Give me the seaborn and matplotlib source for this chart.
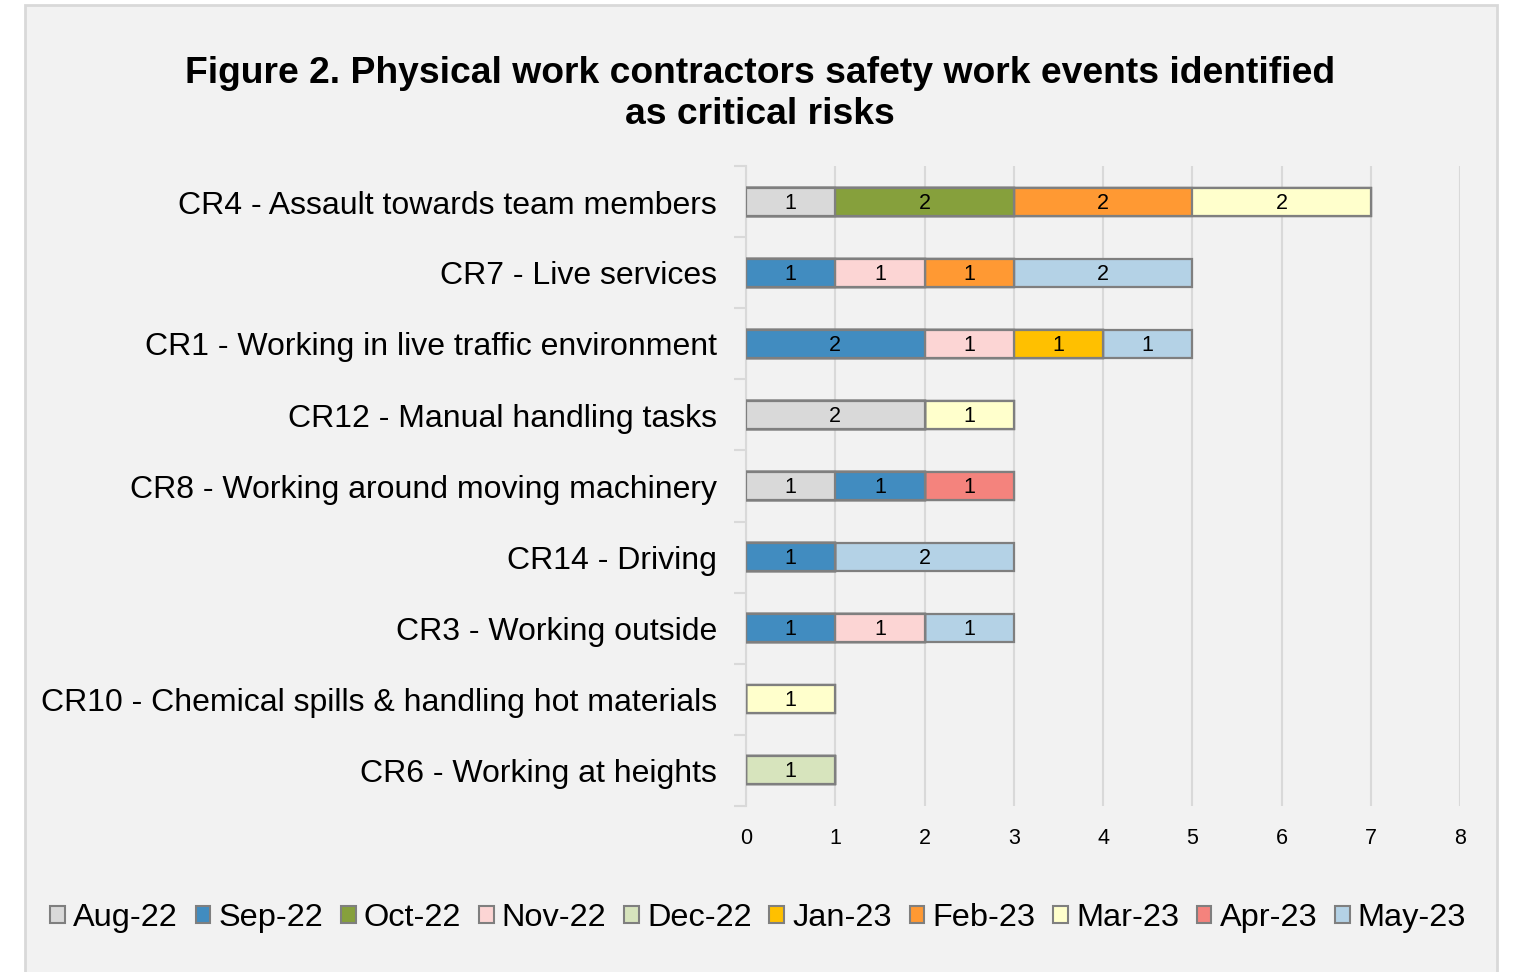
import numpy as np
import pandas as pd
import seaborn as sns
import matplotlib.pyplot as plt
from matplotlib.patches import Patch, Rectangle

# categories, top to bottom as in the chart
risks = [
    "CR4 - Assault towards team members",
    "CR7 - Live services",
    "CR1 - Working in live traffic environment",
    "CR12 - Manual handling tasks",
    "CR8 - Working around moving machinery",
    "CR14 - Driving",
    "CR3 - Working outside",
    "CR10 - Chemical spills & handling hot materials",
    "CR6 - Working at heights",
]
months = ["Aug-22", "Sep-22", "Oct-22", "Nov-22", "Dec-22",
          "Jan-23", "Feb-23", "Mar-23", "Apr-23", "May-23"]

# events per risk, one list per month (same order as risks)
aug_22 = [1, 0, 0, 2, 1, 0, 0, 0, 0]
sep_22 = [0, 1, 2, 0, 1, 1, 1, 0, 0]
oct_22 = [2, 0, 0, 0, 0, 0, 0, 0, 0]
nov_22 = [0, 1, 1, 0, 0, 0, 1, 0, 0]
dec_22 = [0, 0, 0, 0, 0, 0, 0, 0, 1]
jan_23 = [0, 0, 1, 0, 0, 0, 0, 0, 0]
feb_23 = [2, 1, 0, 0, 0, 0, 0, 0, 0]
mar_23 = [2, 0, 0, 1, 0, 0, 0, 1, 0]
apr_23 = [0, 0, 0, 0, 1, 0, 0, 0, 0]
may_23 = [0, 2, 1, 0, 0, 2, 1, 0, 0]

colors = ["#d9d9d9", "#418cc0", "#86a03c", "#fcd5d4", "#d7e4bd",
          "#ffc000", "#ff9933", "#ffffcc", "#f4837d", "#b4d2e6"]

df = pd.DataFrame(
    [aug_22, sep_22, oct_22, nov_22, dec_22, jan_23, feb_23, mar_23, apr_23, may_23],
    index=months, columns=risks,
).T
cum = df.cumsum(axis=1)

sns.set_theme(style="white")
plt.rcParams["font.family"] = ["Liberation Sans", "DejaVu Sans"]
for key in ["text.color", "axes.labelcolor", "xtick.color", "ytick.color"]:
    plt.rcParams[key] = "black"

fig = plt.figure(figsize=(15.38, 9.72), dpi=100)
fig.patch.set_facecolor("white")
# light grey chart area with border, like the office chart frame
fig.patches.append(Rectangle((25 / 1538, -0.05), 1472 / 1538, 1.05 - 5 / 972,
                             transform=fig.transFigure, facecolor="#f2f2f2",
                             edgecolor="#d9d9d9", linewidth=2, zorder=-1))

ax = fig.add_axes([746 / 1538, 1 - 805.5 / 972, 714 / 1538, 639 / 972])
ax.set_facecolor("none")

# stacked bars: draw the widest cumulative layer first, narrower ones on top
for m, c in reversed(list(zip(months, colors))):
    layer = pd.DataFrame({"risk": risks, "value": cum[m].values})
    sns.barplot(data=layer, x="value", y="risk", order=risks, orient="h",
                color=c, saturation=1, width=0.4, edgecolor="#7f7f7f",
                linewidth=1.6, errorbar=None, ax=ax, zorder=3)

# value labels in the middle of each segment
for i, r in enumerate(risks):
    for m in months:
        v = df.loc[r, m]
        if v > 0:
            ax.text(cum.loc[r, m] - v / 2, i + 0.02, str(v), ha="center", va="center",
                    fontsize=15.5, color="black", zorder=4)

ax.set_xlim(0, 8)
ax.set_ylim(len(risks) - 0.5, -0.5)
ax.set_xticks(range(0, 9))
ax.xaxis.grid(True, color="#d9d9d9", linewidth=1.5, zorder=0)
ax.set_axisbelow(True)
ax.set_xlabel("")
ax.set_ylabel("")
ax.tick_params(axis="x", length=0, labelsize=15.5, pad=16)
ax.tick_params(axis="y", which="major", left=False, length=0, labelsize=23, pad=21)
ax.set_yticks(np.arange(-0.5, len(risks) + 0.5, 1), minor=True)
ax.tick_params(axis="y", which="minor", left=True, length=9, color="#d9d9d9", width=1.5)
for s in ["top", "right", "bottom"]:
    ax.spines[s].set_visible(False)
ax.spines["left"].set_color("#d9d9d9")
ax.spines["left"].set_linewidth(1.5)

fig.text(0.494, 1 - 94 / 972,
         "Figure 2. Physical work contractors safety work events identified\nas critical risks",
         ha="center", va="center", fontsize=26.8, fontweight="bold",
         linespacing=1.25)

handles = [Patch(facecolor=c, edgecolor="#7f7f7f", linewidth=1.5) for c in colors]
fig.legend(handles, months, loc="center", bbox_to_anchor=(0.493, 1 - 918 / 972),
           ncol=len(months), frameon=False, fontsize=23.4, handlelength=0.45,
           handleheight=0.45, handletextpad=0.25, columnspacing=0.55)

fig.savefig("out.png", dpi=100, facecolor="white")
